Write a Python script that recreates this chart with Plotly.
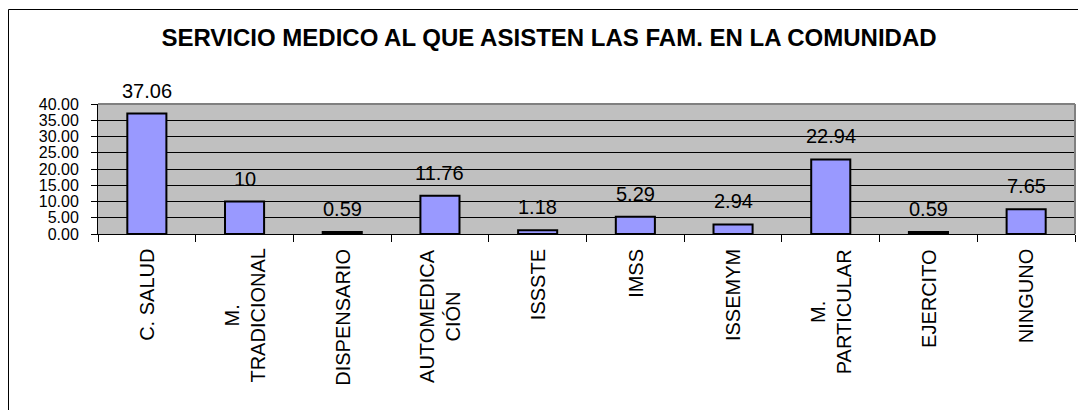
import plotly.graph_objects as go

categories = ["C. SALUD", "M. TRADICIONAL", "DISPENSARIO", "AUTOMEDICACIÓN", "ISSSTE",
              "IMSS", "ISSEMYM", "M. PARTICULAR", "EJERCITO", "NINGUNO"]
tick_labels = ["C. SALUD", "M.<br>TRADICIONAL", "DISPENSARIO", "AUTOMEDICA<br>CIÓN", "ISSSTE",
               "IMSS", "ISSEMYM", "M.<br>PARTICULAR", "EJERCITO", "NINGUNO"]
values = [37.06, 10, 0.59, 11.76, 1.18, 5.29, 2.94, 22.94, 0.59, 7.65]
y_ticks = [0, 5, 10, 15, 20, 25, 30, 35, 40]

# page body has an 8px default margin, so the figure is drawn 8px in from the window edges
OFF = 8
W, H = 1086 - OFF, 410 - OFF
ML, MT = 98 - OFF, 104 - OFF
PW, PH = 977, 130
MR, MB = W - ML - PW, H - MT - PH
FONT = "Liberation Sans, Arial, sans-serif"

fig = go.Figure()
fig.add_trace(go.Bar(
    x=categories, y=values,
    marker=dict(color="#9999FF", line=dict(color="black", width=2)),
    cliponaxis=False, showlegend=False, hoverinfo="x+y",
))

def px_x(p):
    return (p - OFF - ML) / PW

def px_y(p):
    return (MT + PH - (p - OFF)) / PH

annotations = []
# data labels
for c, v in zip(categories, values):
    annotations.append(dict(x=c, y=v, xref="x", yref="y", text=f"{v:g}", showarrow=False,
                            xanchor="center", yanchor="bottom", yshift=10,
                            font=dict(family=FONT, size=20, color="black")))
# category labels (rotated, centered lines)
for c, t in zip(categories, tick_labels):
    annotations.append(dict(x=c, y=px_y(247), xref="x", yref="paper", text=t,
                            showarrow=False, textangle=-90, align="center",
                            xanchor="center", yanchor="top",
                            font=dict(family=FONT, size=20, color="black")))

shapes = [
    # plot area gray border (top & right)
    dict(type="line", xref="paper", yref="paper", x0=0, x1=1, y0=1, y1=1,
         line=dict(color="#808080", width=2)),
    dict(type="line", xref="paper", yref="paper", x0=1, x1=1, y0=0, y1=1,
         line=dict(color="#808080", width=2)),
    # outer chart border
    dict(type="rect", xref="paper", yref="paper", x0=px_x(8.5), x1=px_x(1100),
         y0=px_y(430), y1=px_y(9.5), line=dict(color="black", width=1)),
]

fig.update_layout(
    width=W, height=H,
    margin=dict(l=ML, r=MR, t=MT, b=MB, pad=0),
    paper_bgcolor="white", plot_bgcolor="#C0C0C0",
    bargap=0.6,
    title=dict(text="<b>SERVICIO MEDICO AL QUE ASISTEN LAS FAM. EN LA COMUNIDAD</b>",
               x=(549 - OFF) / W, xref="container", xanchor="center",
               y=1 - (38 - OFF) / H, yref="container", yanchor="middle",
               font=dict(family=FONT, size=24, color="black")),
    annotations=annotations,
    shapes=shapes,
    font=dict(family=FONT, color="black"),
)
fig.update_xaxes(
    type="category", showticklabels=False, showgrid=False,
    showline=True, linecolor="black", linewidth=1,
    ticks="outside", tickson="boundaries", ticklen=7, tickcolor="black", tickwidth=1,
    zeroline=False,
)
fig.update_yaxes(
    range=[0, 40], tickvals=y_ticks, tickformat=".2f",
    showgrid=True, gridcolor="black", gridwidth=1,
    showline=True, linecolor="black", linewidth=1,
    ticks="outside", ticklen=6, tickcolor="black", tickwidth=1,
    ticklabelstandoff=9,
    tickfont=dict(family=FONT, size=16, color="black"),
    zeroline=False,
)

fig.write_html("out.html")
